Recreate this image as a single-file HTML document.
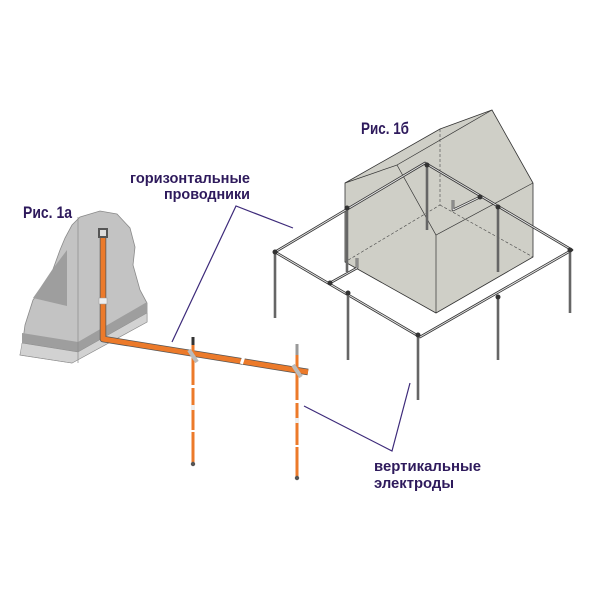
<!DOCTYPE html>
<html><head><meta charset="utf-8"><style>html,body{margin:0;padding:0;background:#fff}svg{display:block}text{font-family:"Liberation Sans",sans-serif;font-weight:700}</style></head>
<body>
<svg width="600" height="600" viewBox="0 0 600 600" xmlns="http://www.w3.org/2000/svg">
<!-- Building 1a -->
<path d="M20,355 L22,347 L25,325 L33,300 L43,287 L52,272 L60,250 L65,238 L72,225 L80,217 L100,211 L117,214 L130,228 L135,247 L133,265 L140,290 L147,303 L147,322 L72,363 Z" fill="#c3c3c3" stroke="#8a8a8a" stroke-width="0.8"/>
<path d="M67,250 L67,306 L33,298 L40,288 L52,270 Z" fill="#9e9e9e"/>
<path d="M22,333 L78,342 L147,302 L147,313 L78,352 L22,343 Z" fill="#9e9e9e"/>
<path d="M22,343 L78,352 L147,313 L147,322 L72,363 L20,355 Z" fill="#d2d2d2" stroke="#8a8a8a" stroke-width="0.5"/>
<line x1="78" y1="217" x2="78" y2="363" stroke="#8a8a8a" stroke-width="0.7"/>
<!-- orange conduit -->
<path d="M103,236 L103,339 L308,372" fill="none" stroke="#555" stroke-width="6.5" stroke-linejoin="round"/>
<path d="M103,236 L103,339 L308,372" fill="none" stroke="#ec7a2a" stroke-width="5" stroke-linejoin="round"/>
<line x1="241" y1="360" x2="244" y2="361" stroke="#fff" stroke-width="7"/>
<rect x="98" y="228" width="10" height="10" fill="#555"/>
<rect x="100" y="230" width="6" height="6" fill="#ddd"/>
<rect x="99" y="298" width="8" height="6" fill="#eee" stroke="#999" stroke-width="0.5"/>
<!-- orange electrodes -->
<g>
<line x1="193" y1="338" x2="193" y2="463" stroke="#ec7a2a" stroke-width="3"/>
<line x1="193" y1="337" x2="193" y2="345" stroke="#333" stroke-width="3"/>
<rect x="191" y="385" width="4" height="3" fill="#fff"/><rect x="191" y="405" width="4" height="5" fill="#eee"/><rect x="191" y="430" width="4" height="2" fill="#fff"/>
<circle cx="193" cy="464" r="2.2" fill="#555"/>
<line x1="297" y1="345" x2="297" y2="477" stroke="#ec7a2a" stroke-width="3"/>
<line x1="297" y1="344" x2="297" y2="355" stroke="#999" stroke-width="3"/>
<rect x="295" y="400" width="4" height="3" fill="#fff"/><rect x="295" y="418" width="4" height="5" fill="#eee"/><rect x="295" y="445" width="4" height="2" fill="#fff"/>
<circle cx="297" cy="478" r="2.2" fill="#555"/>
<path d="M189,350 L197,362" stroke="#bbb" stroke-width="4"/>
<path d="M293,365 L301,377" stroke="#bbb" stroke-width="4"/>
</g>
<!-- House 1b -->
<path d="M345,183 L440,129 L492,110 L533,183 L533,257 L436,313 L345,262 Z" fill="#cfcfc7" stroke="#333" stroke-width="0.8"/>
<g fill="none" stroke="#333" stroke-width="0.7">
<path d="M345,183 L397,165 L436,235 L533,183"/>
<path d="M397,165 L492,110"/>
<line x1="436" y1="235" x2="436" y2="313"/>
</g>
<g fill="none" stroke="#444" stroke-width="0.6" stroke-dasharray="3,2">
<path d="M440,129 L440,205 L345,262"/>
<path d="M440,205 L533,257"/>
</g>
<!-- ground loop -->
<g fill="none" stroke-linejoin="round">
<path d="M275,252 L425,163 L572,250 L420,337 Z M330,283 L357,268 L357,258 M480,197 L453,210 L453,200" stroke="#333" stroke-width="2.6"/>
<path d="M275,252 L425,163 L572,250 L420,337 Z M330,283 L357,268 L357,258 M480,197 L453,210 L453,200" stroke="#e6e6e6" stroke-width="1"/>
</g>
<g stroke="#666" stroke-width="2.6">
<line x1="275" y1="252" x2="275" y2="318"/>
<line x1="347" y1="208" x2="347" y2="272"/>
<line x1="427" y1="165" x2="427" y2="230"/>
<line x1="498" y1="207" x2="498" y2="272"/>
<line x1="570" y1="250" x2="570" y2="313"/>
<line x1="348" y1="293" x2="348" y2="360"/>
<line x1="498" y1="297" x2="498" y2="360"/>
<line x1="418" y1="335" x2="418" y2="400"/>
</g>
<g fill="#333">
<circle cx="275" cy="252" r="2.5"/><circle cx="347" cy="208" r="2.5"/><circle cx="427" cy="165" r="2.5"/><circle cx="498" cy="207" r="2.5"/><circle cx="570" cy="250" r="2.5"/><circle cx="348" cy="293" r="2.5"/><circle cx="498" cy="297" r="2.5"/><circle cx="418" cy="335" r="2.5"/><circle cx="330" cy="283" r="2.5"/><circle cx="480" cy="197" r="2.5"/>
</g>
<!-- leader lines -->
<g stroke="#3d2a7a" stroke-width="1.2" fill="none">
<path d="M293,228 L236,206 L172,342"/>
<path d="M304,406 L392,451 L410,383"/>
</g>
<!-- labels -->
<g fill="#2e1a5c">
<text x="23" y="218" font-size="17" textLength="49" lengthAdjust="spacingAndGlyphs">Рис. 1а</text>
<text x="361" y="134" font-size="17" textLength="48" lengthAdjust="spacingAndGlyphs">Рис. 1б</text>
<text x="250" y="183" font-size="15" text-anchor="end" textLength="120" lengthAdjust="spacingAndGlyphs">горизонтальные</text>
<text x="250" y="199" font-size="15" text-anchor="end" textLength="86" lengthAdjust="spacingAndGlyphs">проводники</text>
<text x="374" y="471" font-size="15" textLength="107" lengthAdjust="spacingAndGlyphs">вертикальные</text>
<text x="374" y="488" font-size="15" textLength="80" lengthAdjust="spacingAndGlyphs">электроды</text>
</g>
</svg>
</body></html>
